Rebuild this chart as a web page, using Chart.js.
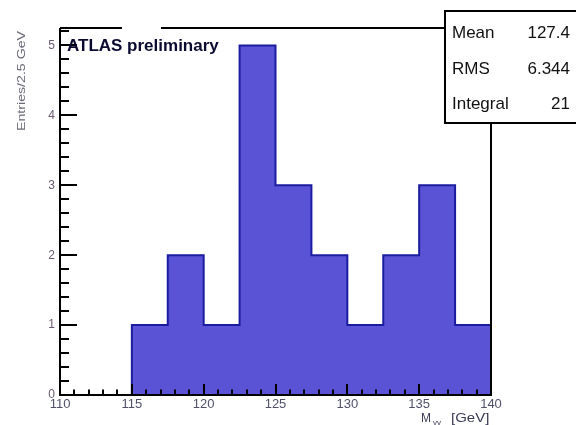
<!DOCTYPE html>
<html>
<head>
<meta charset="utf-8">
<script src="https://cdn.jsdelivr.net/npm/chart.js@4.4.1/dist/chart.umd.min.js"></script>
<style>
  html, body { margin: 0; padding: 0; background: #fff; }
  #wrap { width: 576px; height: 425px; position: relative; }
</style>
</head>
<body>
<div id="wrap"><canvas id="massChart"></canvas></div>
<script>
// diphoton mass histogram, 2.5 GeV bins
const binLowEdges = [110, 112.5, 115, 117.5, 120, 122.5, 125, 127.5, 130, 132.5, 135, 137.5];
const binWidth = 2.5;
const entries = [0, 0, 1, 2, 1, 5, 3, 2, 1, 2, 3, 1];
const xTickValues = [110, 115, 120, 125, 130, 135, 140];
const yTickValues = [0, 1, 2, 3, 4, 5];
const statNames = ['Mean', 'RMS', 'Integral'];
const statValues = ['127.4', '6.344', '21'];

// step outline points: each bin starts at its low edge, closed at the last high edge
const lastEdge = binLowEdges[binLowEdges.length - 1] + binWidth;
const histPoints = binLowEdges.map((x, i) => ({ x: x, y: entries[i] }));
histPoints.push({ x: lastEdge, y: entries[entries.length - 1] });
histPoints.push({ x: lastEdge, y: 0 });

const FONT = '"Liberation Sans", Arial, sans-serif';

// frame, inward ticks, stats box and labels in ROOT style
const rootFrame = {
    id: 'rootFrame',
    afterDatasetsDraw(chart) {
        const ctx = chart.ctx;
        const a = chart.chartArea;
        const xs = chart.scales.x, ys = chart.scales.y;
        ctx.save();
        ctx.strokeStyle = '#000';
        ctx.lineWidth = 2;
        ctx.beginPath();
        ctx.moveTo(a.left, a.top);
        ctx.lineTo(a.left, a.bottom);
        ctx.lineTo(a.right, a.bottom);
        ctx.lineTo(a.right, a.top);
        ctx.moveTo(a.left, a.top);
        ctx.lineTo(122, a.top);
        ctx.moveTo(161, a.top);
        ctx.lineTo(a.right, a.top);
        ctx.stroke();

        // x ticks: major every 5, minor every 1
        ctx.lineWidth = 2;
        ctx.beginPath();
        for (let v = xs.min; v <= xs.max + 1e-6; v += 1) {
            const px = Math.round(xs.getPixelForValue(v));
            const len = (Math.round(v) % 5 === 0) ? 11 : 5.5;
            ctx.moveTo(px, a.bottom);
            ctx.lineTo(px, a.bottom - len);
        }
        // y ticks: major every 1, minor every 0.2
        for (let k = 0; k <= 26; k++) {
            const v = k * 0.2;
            if (v > ys.max) break;
            const py = Math.round(ys.getPixelForValue(v));
            const len = (k % 5 === 0) ? 17 : 9;
            ctx.moveTo(a.left, py);
            ctx.lineTo(a.left + len, py);
        }
        ctx.stroke();

        // ATLAS label
        ctx.fillStyle = '#0a0a30';
        ctx.font = 'bold 17px ' + FONT;
        ctx.textBaseline = 'alphabetic';
        ctx.textAlign = 'left';
        ctx.fillText('ATLAS preliminary', 67, 51);

        // y-axis title
        ctx.save();
        ctx.translate(25, 131);
        ctx.rotate(-Math.PI / 2);
        ctx.font = '10px ' + FONT;
        const tw = ctx.measureText('Entries/2.5 GeV').width;
        ctx.scale(100 / tw, 1);
        ctx.fillStyle = '#6a6a78';
        ctx.fillText('Entries/2.5 GeV', 0, 0);
        ctx.restore();

        // x-axis title
        ctx.fillStyle = '#3a3a55';
        ctx.font = '12px ' + FONT;
        ctx.fillText('M', 421, 422);
        ctx.font = '8px ' + FONT;
        ctx.fillText('\u03b3\u03b3', 433, 425);
        ctx.font = '12px ' + FONT;
        ctx.save();
        ctx.translate(451, 422);
        ctx.scale(1.25, 1);
        ctx.fillText('[GeV]', 0, 0);
        ctx.restore();

        // stats box
        const bx = 445, by = 11, bw = 140, bh = 112;
        ctx.fillStyle = '#fff';
        ctx.fillRect(bx, by, bw, bh);
        ctx.lineWidth = 2;
        ctx.strokeRect(bx, by, bw, bh);
        ctx.fillStyle = '#111';
        ctx.font = '17px ' + FONT;
        statNames.forEach((name, i) => {
            const y = 38 + i * 35.5;
            ctx.textAlign = 'left';
            ctx.fillText(name, 452, y);
            ctx.textAlign = 'right';
            ctx.fillText(statValues[i], 570, y);
        });
        ctx.restore();
    }
};

new Chart(document.getElementById('massChart'), {
    type: 'line',
    data: {
        datasets: [{
            data: histPoints,
            stepped: 'before',
            fill: 'origin',
            backgroundColor: '#5a53d6',
            borderColor: '#1c1ca0',
            borderWidth: 2,
            pointRadius: 0,
            tension: 0
        }]
    },
    options: {
        responsive: true,
        maintainAspectRatio: false,
        animation: false,
        events: [],
        layout: { padding: { left: 0, top: 28, right: 85, bottom: 0 } },
        plugins: { legend: { display: false }, tooltip: { enabled: false } },
        scales: {
            x: {
                type: 'linear',
                min: 110,
                max: 140,
                afterFit(s) { s.height = 30; },
                afterBuildTicks(s) { s.ticks = xTickValues.map(v => ({ value: v })); },
                grid: { display: false, drawTicks: false },
                border: { display: false },
                ticks: {
                    padding: 2,
                    maxRotation: 0,
                    autoSkip: false,
                    color: '#50506a',
                    font: { family: FONT, size: 13 }
                }
            },
            y: {
                min: 0,
                max: 5.25,
                afterFit(s) { s.width = 60; },
                afterBuildTicks(s) { s.ticks = yTickValues.map(v => ({ value: v })); },
                grid: { display: false, drawTicks: false },
                border: { display: false },
                ticks: {
                    padding: 5,
                    autoSkip: false,
                    color: '#6a5a70',
                    font: { family: FONT, size: 12 }
                }
            }
        }
    },
    plugins: [rootFrame]
});
</script>
</body>
</html>
